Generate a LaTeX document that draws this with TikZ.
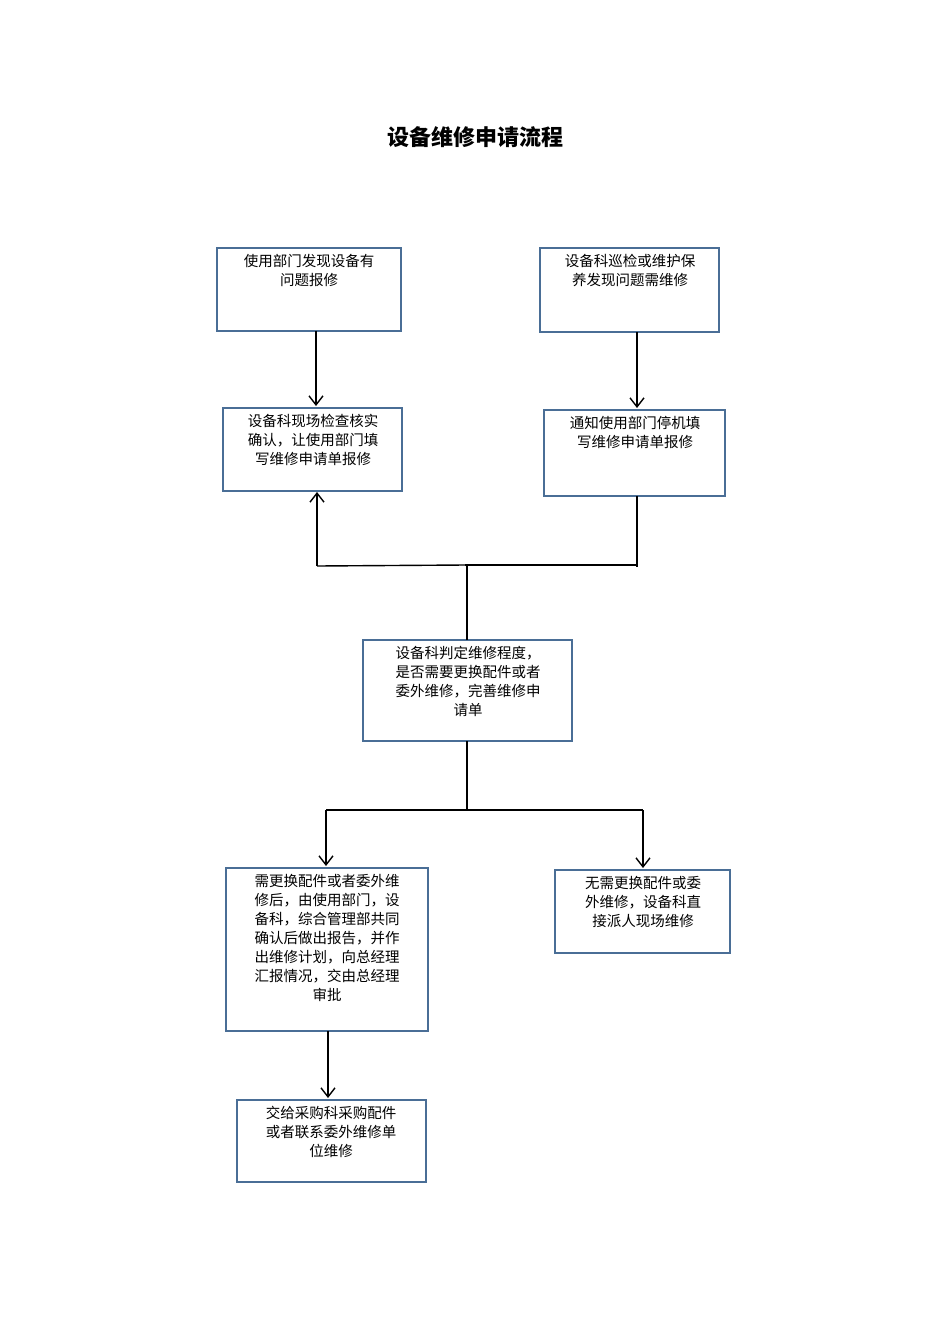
\documentclass[tikz,border=0pt]{standalone}
\usepackage{fontspec}
\newfontfamily\cjk{Noto Sans CJK SC}
\usetikzlibrary{arrows.meta}
\definecolor{bx}{HTML}{4A6E96}
\begin{document}
\begin{tikzpicture}[x=1pt,y=-1pt,
  box/.style={draw=bx,line width=1.6pt},
  txt/.style={anchor=north,align=center,font=\cjk\fontsize{14.5}{19}\selectfont,inner sep=0pt},
  ln/.style={line width=1.4pt},
  arr/.style={ln,-{Straight Barb[length=9pt,width=14pt,line width=1.4pt]}}]
\useasboundingbox (0,0) rectangle (950,1344);
\node[font=\cjk\bfseries\fontsize{22}{26}\selectfont] (title) at (475,137) {设备维修申请流程};
\draw[box] (217,248) rectangle (401,331) coordinate (Abr);
\node[txt] (A) at (309,254) {使用部门发现设备有\\问题报修};
\draw[box] (540,248) rectangle (719,332);
\node[txt] (B) at (630,254) {设备科巡检或维护保\\养发现问题需维修};
\draw[box] (223,408) rectangle (402,491);
\node[txt] (C) at (313,414) {设备科现场检查核实\\确认，让使用部门填\\写维修申请单报修};
\draw[box] (544,410) rectangle (725,496);
\node[txt] (D) at (635,416) {通知使用部门停机填\\写维修申请单报修};
\draw[box] (363,640) rectangle (572,741);
\node[txt] (E) at (468,646) {设备科判定维修程度，\\是否需要更换配件或者\\委外维修，完善维修申\\请单};
\draw[box] (226,868) rectangle (428,1031);
\node[txt] (F) at (327,874) {需更换配件或者委外维\\修后，由使用部门，设\\备科，综合管理部共同\\确认后做出报告，并作\\出维修计划，向总经理\\汇报情况，交由总经理\\审批};
\draw[box] (555,870) rectangle (730,953);
\node[txt] (G) at (643,876) {无需更换配件或委\\外维修，设备科直\\接派人现场维修};
\draw[box] (237,1100) rectangle (426,1182);
\node[txt] (H) at (331,1106) {交给采购科采购配件\\或者联系委外维修单\\位维修};
\coordinate (a1) at (316,331); \coordinate (a2) at (316,406);
\coordinate (b1) at (637,332); \coordinate (b2) at (637,408);
\draw[arr] (a1) -- (a2);
\draw[arr] (b1) -- (b2);
\coordinate (d1) at (637,496); \coordinate (d2) at (637,567);
\coordinate (j1) at (637,565); \coordinate (j2) at (465,565);
\coordinate (j3) at (317,566); \coordinate (c1) at (317,492);
\coordinate (e1) at (467,640); \coordinate (e2) at (467,565);
\draw[line width=2.4pt] (d1) -- (d2);
\draw[ln] (j1) -- (j2);
\draw[ln] (j2) -- (j3);
\draw[arr] (j3) -- (c1);
\draw[ln] (e1) -- (e2);
\coordinate (e3) at (467,741); \coordinate (e4) at (467,810);
\coordinate (h1) at (326,810); \coordinate (h2) at (643,810);
\coordinate (f0) at (326,866); \coordinate (g0) at (643,868);
\draw[line width=2.4pt] (e3) -- (e4);
\draw[line width=2.2pt] (h1) -- (h2);
\draw[arr] (h1) -- (f0);
\draw[arr] (h2) -- (g0);
\coordinate (f1) at (328,1031); \coordinate (hh) at (328,1098);
\draw[arr] (f1) -- (hh);
\end{tikzpicture}
\end{document}
